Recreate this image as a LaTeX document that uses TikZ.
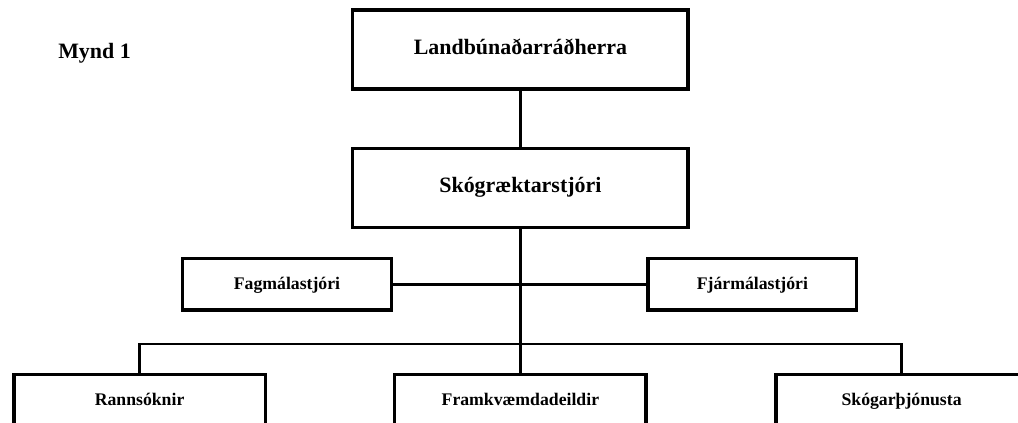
\documentclass[tikz,border=0pt]{standalone}
\usepackage{fontspec}
\setmainfont{Liberation Serif}

\begin{document}
\begin{tikzpicture}[
            big/.style={draw, line width=2.5pt, minimum width=8.39cm, minimum height=1.98cm, text height=0.68em, text depth=0pt, font=\bfseries\fontsize{15.6}{18}\selectfont},
            small/.style={draw, line width=2.5pt, minimum width=5.215cm, minimum height=1.29cm, text height=0.68em, text depth=0pt, font=\bfseries\fontsize{12.6}{15}\selectfont},
            wide/.style={small, minimum width=6.29cm},
            link/.style={line width=2.1pt}]
            \useasboundingbox (0,0) rectangle (25.45,-10.575);
            \clip (0,0) rectangle (25.45,-10.575);

            \node[anchor=base west, inner sep=0pt, font=\bfseries\fontsize{15.6}{18}\selectfont] (M) at (1.45,-1.46) {Mynd 1};

            \node[big] (L) at (13.01,-1.24) {Landbúnaðarráðherra};
            \node[big] (S) at (13.01,-4.70) {Skógræktarstjóri};
            \node[small] (Fa) at (7.175,-7.11) {Fagmálastjóri};
            \node[small] (Fj) at (18.81,-7.11) {Fjármálastjóri};
            \node[wide] (R) at (3.49,-10.01) {Rannsóknir};
            \node[wide] (Fr) at (13.01,-10.01) {Framkvæmdadeildir};
            \node[wide] (Sk) at (22.54,-10.01) {Skógarþjónusta};
            \coordinate (bus) at (13.01,-8.6);

            \draw[link] (L) -- (S);
            \draw[link] (S) -- (Fr);
            \draw[link] (Fa) -- (Fj);
            \draw[link] (R.north) |- (bus) -| (Sk.north);
        \end{tikzpicture}
\end{document}
